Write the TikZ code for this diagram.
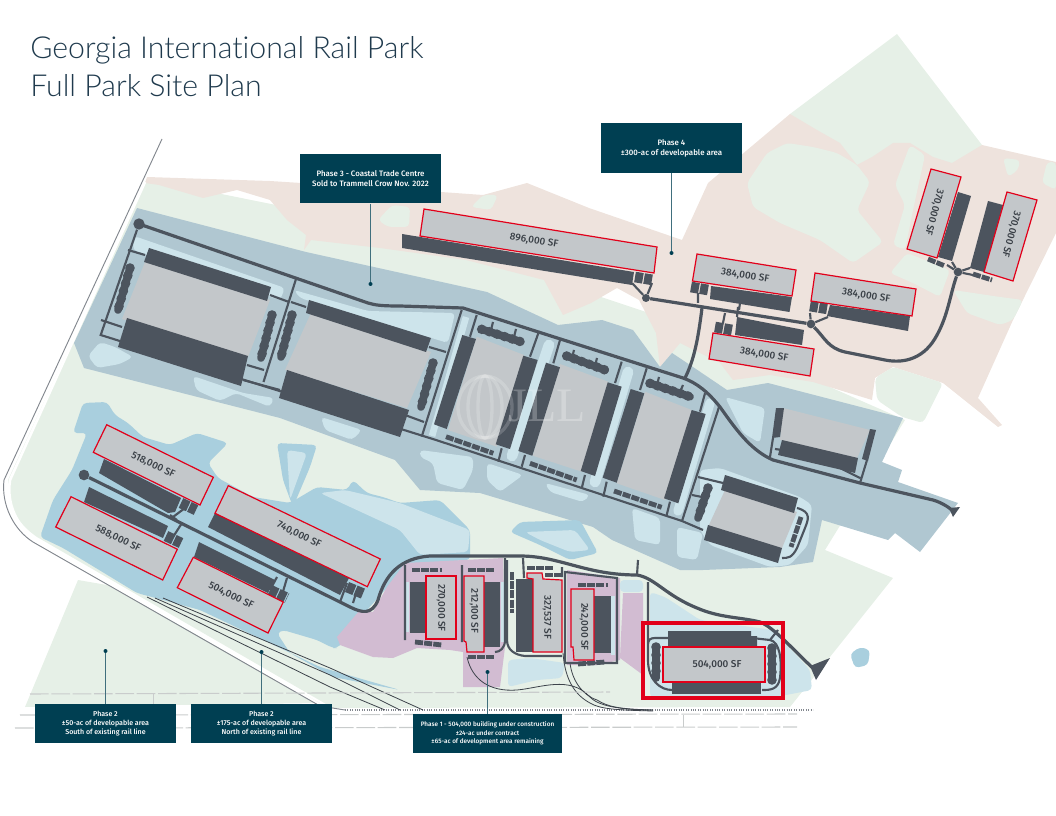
\documentclass[tikz,border=0pt]{standalone}
\usepackage{fontspec}
\setmainfont{Fira Sans Medium}
\newfontfamily\titlefont[Ligatures=NoCommon]{Lato Light}
\newfontfamily\markfont{Liberation Serif}
\definecolor{parkgreen}{HTML}{E6F0E7}
\definecolor{parkpink}{HTML}{EEE3DD}
\definecolor{phasegrey}{HTML}{B0C7D1}
\definecolor{palewater}{HTML}{CDE4EB}
\definecolor{lakeblue}{HTML}{A9CFDE}
\definecolor{phasepurple}{HTML}{D2BCD2}
\definecolor{roaddark}{HTML}{4C545E}
\definecolor{roofgrey}{HTML}{C3C7CA}
\definecolor{planred}{HTML}{E2001A}
\definecolor{boxteal}{HTML}{003F52}
\definecolor{titleink}{HTML}{1F3A4D}
\definecolor{railgrey}{HTML}{C9CCCC}
\usepackage{tikz}

\begin{document}
\begin{tikzpicture}[x=0.75pt, y=-0.75pt,
    road/.style={draw=roaddark, line width=2.4pt, line join=round},
    lane/.style={draw=roaddark, line width=1.6pt},
    spur/.style={draw=roaddark!80!black, line width=0.6pt},
    dark/.style={fill=roaddark},
    roof/.style={fill=roofgrey},
    sold/.style={fill=roofgrey, draw=planred, line width=0.9pt},
    blob/.style={draw=roaddark, line width=5.8pt, line cap=round},
    bumps/.style={draw=roaddark, line width=7.2pt, line cap=round, dash pattern=on 0pt off 6pt},
    smallblob/.style={draw=roaddark, line width=3.6pt, dash pattern=on 6pt off 0.9pt},
    carpark/.style={draw=roaddark, line width=8pt, dash pattern=on 6pt off 0.9pt},
    hub/.style={circle, fill=roaddark, inner sep=0pt, minimum size=#1},
    sqft/.style={text=roaddark!75!black, font=\fontsize{7.5}{9}\selectfont},
    phasebox/.style={fill=boxteal, text=white, align=center, inner sep=0pt},
    boxlarge/.style={phasebox, font=\fontsize{5.9}{7.6}\selectfont},
    boxmid/.style={phasebox, font=\fontsize{5.3}{7}\selectfont},
    boxsmall/.style={phasebox, font=\fontsize{4.8}{6.4}\selectfont},
    leader/.style={draw=boxteal!75!white, line width=0.6pt},
    leaderdot/.style={circle, fill=boxteal, inner sep=0pt, minimum size=3pt},
    water/.style={fill=palewater, rounded corners=3pt},
    lake/.style={fill=lakeblue, rounded corners=3pt},
    greenpatch/.style={fill=parkgreen, rounded corners=3pt}
  ]
  \useasboundingbox (0,0) rectangle (1056,816);

  % Ground
  \fill[parkgreen] (147,179) -- (400,230) -- (700,330) -- (905,420) -- (825,550) -- (893,578) -- (790,707) -- (333,708)
    -- (37,537) .. controls (20,525) and (8,510) .. (8,480) -- cycle;
  \fill[parkgreen] (790,114) -- (897,34) -- (982,145) -- (900,300) -- (800,200) -- cycle;

  % Phase 4 land
  \fill[parkpink] (147,177) -- (270,181) -- (441,192) -- (483,195) -- (527,183) -- (589,208) -- (682,240) -- (708,183)
    -- (790,114) -- (817,130) -- (840,143) -- (857,165) -- (872,157) -- (893,143) -- (910,143) -- (933,157) -- (952,163) -- (982,145)
    -- (1056,162) -- (1056,233) -- (1013,320) -- (978,398) -- (1002,425) -- (998,427) -- (943,383) -- (893,367) -- (875,378) -- (872,400)
    -- (813,382) -- (770,375) -- (733,380) -- (720,363) -- (680,343) -- (660,367) -- (656,333) -- (639,300) -- (617,288) -- (591,303)
    -- (563,315) -- (544,280) -- (466,260) -- (380,248) -- (311,240) -- (304,250) -- (306,235) -- (287,220) -- (270,200) -- (237,190)
    -- (203,198) -- (159,185) -- (145,183) -- cycle;
  \fill[greenpatch] (747,183) -- (767,153) -- (787,143) -- (813,147) -- (837,153) -- (857,165) -- (870,182) -- (857,210)
    -- (883,242) -- (853,263) -- (820,240) -- (780,223) -- (753,207) -- cycle;
  \fill[greenpatch] (910,145) -- (925,155) -- (913,210) -- (905,250) -- (893,245) -- (905,205) -- (895,185) -- cycle;
  \fill[greenpatch] (890,273) -- (907,253) -- (950,270) -- (940,297) -- (913,283) -- cycle;
  \fill[greenpatch] (953,290) -- (1000,297) -- (1023,300) -- (1013,320) -- (1000,325) -- (967,313) -- cycle;
  \fill[greenpatch] (1003,158) -- (1020,160) -- (1018,170) -- (1008,177) -- cycle;
  \fill[greenpatch] (1047,162) -- (1056,162) -- (1056,190) -- (1042,183) -- cycle;
  \fill[greenpatch] (875,378) -- (893,367) -- (943,383) -- (923,423) -- (902,417) -- (877,400) -- cycle;
  \fill[greenpatch] (378,220) -- (392,205) -- (410,207) -- (409,227) -- (388,227) -- cycle;
  \fill[greenpatch] (471,207) -- (483,195) -- (498,195) -- (491,210) -- cycle;

  % Phase 2 land south of the rail
  \fill[parkgreen] (78,580) -- (107,585) -- (320,703) -- (25,707) -- cycle;

  % Phase 3 land
  \fill[phasegrey] (137,208) -- (306,252) -- (487,292) -- (558,325) -- (602,320) -- (633,330) -- (660,367) -- (672,353) -- (690,365)
    -- (727,390) -- (768,383) -- (903,418) -- (882,462) -- (902,470) -- (898,482) -- (958,503) -- (920,552) -- (895,533) -- (888,540)
    -- (822,520) -- (813,562) -- (780,567) -- (703,570) -- (680,570) -- (612,540) -- (593,527) -- (480,493) -- (420,490) -- (395,460)
    -- (280,418) -- (84,368) -- (74,343) -- cycle;
  \fill[water] (134,236) -- (285,288) -- (280,300) -- (133,250) -- cycle;
  \fill[water] (100,342) -- (115,347) -- (133,357) -- (120,364) -- (97,368) -- (88,356) -- cycle;
  \fill[water] (193,376) -- (243,393) -- (274,398) -- (270,407) -- (236,393) -- (220,401) -- (196,390) -- cycle;
  \fill[water] (321,417) -- (362,430) -- (352,440) -- (325,430) -- cycle;
  \fill[water] (294,290) -- (368,311) -- (455,313) -- (448,343) -- (300,298) -- cycle;
  \fill[water] (420,450) -- (473,457) -- (473,470) -- (463,490) -- (437,483) -- (433,463) -- (420,457) -- cycle;
  \fill[water] (487,463) -- (523,475) -- (500,492) -- (487,480) -- cycle;
  \fill[water] (545,483) -- (590,495) -- (583,502) -- (550,492) -- cycle;
  \fill[water] (725,397) -- (765,408) -- (760,443) -- (743,433) -- cycle;
  \fill[water] (632,508) -- (660,518) -- (660,545) -- (635,540) -- cycle;
  \fill[water] (677,527) -- (703,533) -- (697,560) -- (677,557) -- cycle;
  \fill[water] (700,470) -- (720,468) -- (800,497) -- (812,505) -- (808,545) -- (790,565) -- (770,567) -- (710,545) -- (700,530) -- cycle;
  \draw[palewater, line width=5pt] (466,317) -- (432,436);
  \draw[palewater, line width=8pt, line cap=round] (549,345) -- (512,456);
  \draw[palewater, line width=8pt, line cap=round] (628,372) -- (595,482);
  \draw[palewater, line width=7pt, line cap=round] (710,403) -- (678,511);

  % Phase 2 water
  \fill[lake] (83,403) -- (107,402) -- (115,415) -- (128,423) -- (143,437) -- (170,445) -- (197,433) -- (228,443) -- (208,463) -- (218,478)
    -- (253,497) -- (290,503) -- (317,487) -- (347,490) -- (353,480) -- (367,493) -- (383,497) -- (400,503) -- (440,500) -- (470,530)
    -- (470,560) -- (420,563) -- (400,575) -- (385,590) -- (367,610) -- (353,633) -- (337,648) -- (333,648) -- (317,640) -- (283,630)
    -- (277,633) -- (290,653) -- (333,677) -- (400,690) -- (320,667) -- (200,610) -- (137,593) -- (63,548) -- (40,537) -- (53,500)
    -- (72,470) -- (87,433) -- (73,433) -- cycle;
  \fill[lake] (277,443) -- (317,445) -- (310,467) -- (293,507) -- (283,480) -- cycle;
  \fill[water] (287,450) -- (307,453) -- (290,500) -- cycle;
  \fill[water] (320,493) -- (345,490) -- (400,503) -- (470,530) -- (468,552) -- (420,555) -- (400,530) -- cycle;
  \fill[lake] (510,532) -- (520,522) -- (580,520) -- (598,553) -- (570,560) -- (540,545) -- cycle;
  \fill[water] (525,532) -- (575,530) -- (590,550) -- (570,552) -- (540,540) -- cycle;
  \fill[lake] (850,654) -- (860,647) -- (870,650) -- (868,665) -- (855,668) -- cycle;

  % Phase 1 land
  \fill[phasepurple] (405,563) -- (503,558) -- (505,647) -- (500,687) -- (463,687) -- (463,652) -- (450,650) -- (417,648) -- (393,658)
    -- (373,657) -- (340,645) -- (337,637) -- (360,610) -- (373,612) -- (387,587) -- cycle;
  \fill[phasepurple] (567,570) -- (620,578) -- (620,660) -- (597,665) -- (567,665) -- cycle;
  \fill[phasepurple] (623,593) -- (643,593) -- (643,675) -- (620,658) -- cycle;
  \fill[water] (508,660) -- (530,658) -- (565,663) -- (562,678) -- (537,680) -- (508,687) -- cycle;
  \fill[water] (620,580) -- (643,580) -- (643,592) -- (620,592) -- cycle;
  \fill[water] (650,592) -- (665,597) -- (700,620) -- (773,630) -- (810,670) -- (812,690) -- (760,700) -- (650,697) -- cycle;
  \fill[palewater] (406,582) rectangle (409,632);
  \fill[palewater] (501,582) rectangle (504,642);
  \fill[palewater] (611,596) rectangle (615,655);

  % Boundary and rail
  \draw[white, line width=2pt] (145,182) -- (10,480) .. controls (6,505) and (18,528) .. (37,540) -- (322,706) -- (340,712) -- (813,712);
  \draw[roaddark!70!white, line width=0.7pt] (162,139) -- (4,480) .. controls (1,505) and (14,530) .. (33,542) -- (320,706) -- (345,710);
  \draw[roaddark!70!white, line width=0.8pt, densely dotted] (345,710) -- (813,710);
  \draw[spur] (163,598) -- (330,668) -- (423,710);
  \draw[spur] (155,598) -- (330,675) -- (400,710);
  \draw[spur] (147,597) -- (330,687) -- (385,710);
  \draw[spur] (467,657) .. controls (472,680) and (490,692) .. (517,690) .. controls (540,688) and (570,675) .. (590,697) .. controls (600,708) and (630,710) .. (653,710);
  \draw[spur] (563,653) .. controls (565,680) and (575,695) .. (590,703) .. controls (600,709) and (615,710) .. (653,711);
  \draw[spur] (570,663) .. controls (572,680) and (582,695) .. (597,700) .. controls (607,706) and (615,709) .. (653,710);
  \draw[railgrey, line width=0.8pt, dash pattern=on 14pt off 2pt] (30,694) -- (610,692);
  \draw[railgrey, line width=0.8pt, dash pattern=on 14pt off 2pt] (20,715) -- (797,714);
  \draw[railgrey, line width=0.8pt, dash pattern=on 14pt off 2pt] (15,728) -- (797,727);
  \draw[railgrey, line width=0.6pt] (153,694) -- (153,705) -- (158,705);
  \draw[railgrey, line width=0.6pt] (683,715) -- (683,727);

  % Phase 3 roads
  \draw[road] (139,224) -- (368,303) .. controls (375,305) and (380,306) .. (400,306) -- (463,308) -- (683,378)
    .. controls (697,383) and (708,392) .. (720,407) .. controls (735,428) and (750,450) .. (773,460) -- (860,483) -- (933,500)
    .. controls (943,503) and (950,508) .. (955,513);
  \fill[roaddark] (953,517) -- (949,508) -- (960,507) -- cycle;
  \node[hub=8.5pt] (hubwest) at (139,224) {};
  \draw[lane] (hubwest) -- (100.7,335) -- (436,440) -- (682,521);
  \draw[lane] (682,521) -- (703,530) (719,407) -- (682,521);
  \draw[lane] (296,279) -- (263.5,382);
  \draw[lane] (270,295) -- (289,302) (247,365) -- (264,370) (243,380) -- (280,390) (101,320) -- (122,327) (128,250) -- (145,255)
    (291,302) -- (306,307) (429,347) -- (446,352) (405,415) -- (424,422) (461.7,310) -- (421.7,436.7) (476.7,315) -- (470,336.7)
    (538.3,333.3) -- (530,356.7) (560,340) -- (553.3,363.3) (621.7,361.7) -- (615,383) (646.7,368.3) -- (640,390) (705,393.3) -- (700,411.7)
    (501.7,448.3) -- (498.3,461.7) (525,455) -- (521.7,466.7) (585,475) -- (581.7,488.3) (606.7,481.7) -- (603.3,496.7) (670,501.7) -- (666.7,515)
    (493,322) -- (491,330) (516,329) -- (514,337) (574,350) -- (572,358) (597,358) -- (595,366) (659,377) -- (657,385) (683,385) -- (680,392)
    (698,477) -- (723,483) (692,495) -- (702,497) (773,438) -- (770,457) (775,449) -- (782,450) (867,460) -- (860,483) (838,467) -- (860,478);
  \draw[lane] (797,508) .. controls (812,512) and (808,520) .. (805,528) -- (797,548) .. controls (792,558) and (788,558) .. (782,558);

  % Phase 3 buildings
  \fill[roof] (145,262) -- (270,300) -- (248,357) -- (122,319) -- cycle;
  \fill[dark] (149,248) -- (271,287) -- (267,301) -- (144,262) -- cycle;
  \fill[dark] (127,318) -- (248,356) -- (241,386) -- (118,347) -- cycle;
  \fill[roof] (311,313) -- (431,352) -- (407,408) -- (285,370) -- cycle;
  \fill[dark] (309,300) -- (431,338) -- (426,352) -- (306,313) -- cycle;
  \fill[dark] (287,370) -- (409,410) -- (400,437) -- (279,398) -- cycle;
  \fill[roof] (476.7,336.7) -- (524,355) -- (496.7,446.7) -- (448,430) -- cycle;
  \fill[dark] (462.3,335) -- (476,339) -- (446.7,429) -- (434,424.3) -- cycle;
  \fill[dark] (523.3,355.7) -- (537.7,360) -- (510,449) -- (495.7,444.3) -- cycle;
  \fill[roof] (560,364) -- (608.3,381.7) -- (581.7,471.7) -- (532.7,455.7) -- cycle;
  \fill[dark] (546,362.7) -- (560,367.3) -- (532.3,455.7) -- (518.3,451) -- cycle;
  \fill[dark] (607.7,382.3) -- (621.7,386.7) -- (595,476) -- (580.7,471) -- cycle;
  \fill[roof] (645,391.7) -- (691.7,410) -- (665,500) -- (616.7,483.3) -- cycle;
  \fill[dark] (630.7,389) -- (644.3,393.3) -- (616.7,482.7) -- (602.7,477.7) -- cycle;
  \fill[dark] (691.7,410) -- (705.7,414) -- (678.3,503.3) -- (664,498.3) -- cycle;
  \fill[roof] (725,490) -- (797,512) -- (782,548) -- (708,527) -- cycle;
  \fill[dark] (725,475) -- (798,498) -- (794,513) -- (721,490) -- cycle;
  \fill[dark] (708,525) -- (782,548) -- (778,563) -- (704,540) -- cycle;
  \fill[roof] (783,408) -- (870,430) -- (857,458) -- (780,440) -- cycle;
  \fill[dark] (776,408) -- (784,408) -- (780,437) -- (772,438) -- cycle;
  \fill[dark] (870,429) -- (876,430) -- (868,461) -- (862,459) -- cycle;
  \fill[dark] (782,440) -- (858,458) -- (855,473) -- (778,455) -- cycle;

  % Phase 3 parking
  \foreach \ax/\ay/\bx/\by in {130/268/118/310, 272/315/261/358, 292/315/281/357, 433/363/421/407,
      481.7/329.3/520.7/341.7, 566.7/356/605/370, 650/383.3/690/396.7, 708/488/698/518} {
    \draw[blob] (\ax,\ay) -- (\bx,\by);
    \draw[bumps] (\ax,\ay) -- (\bx,\by);
  }
  \draw[smallblob] (446,436.7) -- (493.3,453.3);
  \draw[smallblob] (530,463.3) -- (576.7,480);
  \draw[smallblob] (614,491) -- (661.7,507.3);
  \draw[smallblob] (801,517) -- (791,547);

  % Phase 4 roads
  \node[hub=6pt] (hubfour) at (646,298) {};
  \node[hub=6.5pt] (hubeast) at (811,324) {};
  \node[hub=6.5pt] (hubnorth) at (958,272) {};
  \draw[road] (hubfour) -- (hubeast);
  \draw[road] (hubeast) .. controls (825,338) and (828,348) .. (845,352) -- (885,360) .. controls (905,364) and (925,358) .. (937,335)
    .. controls (948,315) and (950,295) .. (hubnorth);
  \draw[road] (702,308) .. controls (698,340) and (694,360) .. (685,378);
  \draw[lane] (632,283) -- (hubfour) (652,283) -- (hubfour) (698,293) -- (698,303) (740,303) -- (739,310) (725,313) -- (723,323)
    (738,307) -- (737,317) (810,313) -- (hubeast) (828,317) -- (hubeast) (952,262) -- (hubnorth) (970,268) -- (hubnorth)
    (947,265) -- (hubnorth) (973,275) -- (hubnorth);

  % Phase 4 buildings
  \fill[dark] (402,234) -- (634,272) -- (632,285) -- (402,248) -- cycle;
  \fill[dark] (711,286) -- (792,297) -- (789.5,312) -- (710,299) -- cycle;
  \fill[dark] (830,305) -- (910,316) -- (908,331) -- (827,316) -- cycle;
  \fill[dark] (737,317) -- (804,330) -- (802,345) -- (735,335) -- cycle;
  \fill[dark] (958,192) -- (971,196) -- (952,261) -- (938,257) -- cycle;
  \fill[dark] (988,201) -- (1003,205) -- (984,272) -- (970,268) -- cycle;
  \foreach \ax/\ay/\bx/\by in {635/277/653/280, 691/287/708/290, 810/306/828/309, 715/327/732/330} {
    \draw[carpark] (\ax,\ay) -- (\bx,\by);
  }
  \draw[smallblob] (928,259) -- (945,266);
  \draw[smallblob] (973,274) -- (992,280);
  \draw[sold] (424,209) -- (657,247) -- (654,273) -- (420,236) -- cycle;
  \draw[sold] (697,254) -- (796,270) -- (792,296) -- (692.5,281) -- cycle;
  \draw[sold] (815,273) -- (916,289) -- (912,316) -- (811,301) -- cycle;
  \draw[sold] (713,333) -- (814,349) -- (810,376) -- (709,359) -- cycle;
  \draw[sold] (931,169) -- (961,177) -- (937,258) -- (907,249) -- cycle;
  \draw[sold] (1007,192) -- (1037,200) -- (1013,281) -- (984,272) -- cycle;
  \node[sqft, rotate=-9.5] (sfeightnine) at (534,241) {896,000 SF};
  \node[sqft, rotate=-9] (sffoura) at (745,276) {384,000 SF};
  \node[sqft, rotate=-9] (sffourb) at (866,296) {384,000 SF};
  \node[sqft, rotate=-9] (sffourc) at (764,355) {384,000 SF};
  \node[sqft, rotate=-105] (sfthreea) at (934,212) {370,000 SF};
  \node[sqft, rotate=-105] (sfthreeb) at (1011,234) {370,000 SF};

  % Phase 2 roads and buildings
  \node[hub=8pt] (hubtwo) at (84,475) {};
  \draw[road] (hubtwo) -- (350,607) .. controls (362,613) and (372,615) .. (378,600) .. controls (385,575) and (400,558) .. (430,556)
    -- (520,556) .. controls (560,556) and (585,575) .. (637,575) .. controls (655,578) and (665,595) .. (697,608)
    .. controls (720,618) and (740,617) .. (760,622) .. controls (775,628) and (795,652) .. (815,670);
  \fill[roaddark] (830,658) -- (816,680) -- (810,666) -- cycle;
  \draw[lane] (170,515) -- (177,520) (185,508) -- (173,517) (182,523) -- (173,537) (277,577) -- (270,590) (287,578) -- (282,595)
    (347,583) -- (340,602) (357,590) -- (353,603) (637,575) -- (638,560);
  \fill[dark] (104,459) -- (181,498) -- (175,512) -- (168,513) -- (99,473) -- cycle;
  \fill[dark] (89,487) -- (168,526) -- (163,538) -- (84,502) -- cycle;
  \fill[dark] (215,513) -- (349,578) -- (340,595) -- (208,527) -- cycle;
  \fill[dark] (199,542) -- (275,580) -- (268,593) -- (194,557) -- cycle;
  \foreach \ax/\ay/\bx/\by in {181/503/196/510, 166/536/181/543, 270/590/287/598, 347/587/364/594} {
    \draw[carpark] (\ax,\ay) -- (\bx,\by);
  }
  \draw[sold] (106.7,424.7) -- (213.3,477.3) -- (200,505) -- (93.3,452.3) -- cycle;
  \draw[sold] (71,496.7) -- (177.3,549.3) -- (162.7,580) -- (55.7,527) -- cycle;
  \draw[sold] (228.3,485.7) -- (380.3,559) -- (367.3,586.7) -- (215,513.3) -- cycle;
  \draw[sold] (193.3,557.3) -- (283.3,602) -- (268,633) -- (177.3,587.7) -- cycle;
  \node[sqft, rotate=-26] (sffiveeighteen) at (153,465) {518,000 SF};
  \node[sqft, rotate=-26] (sffiveeightyeight) at (118,539) {588,000 SF};
  \node[sqft, rotate=-26] (sfseven) at (299,535) {740,000 SF};
  \node[sqft, rotate=-26] (sffivefour) at (231,596) {504,000 SF};

  % Phase 1 roads and buildings
  \draw[lane] (405,565) -- (405,640) (462,565) -- (462,642) (505,558) -- (505,640) .. controls (505,648) and (500,652) .. (495,652);
  \draw[lane] (507,560) -- (507,640) .. controls (507,650) and (515,655) .. (525,656) -- (562,656) (523,558) -- (524,578) (562,567) -- (562,577);
  \draw[lane] (565,572) -- (565,663) -- (617,663) -- (617,578) -- cycle;
  \draw[lane] (648,582) -- (648,660) .. controls (648,680) and (660,690) .. (672,690) (672,638) -- (655,638) .. controls (650,638) and (648,640) .. (648,645);
  \draw[lane] (752,638) -- (770,640) .. controls (780,642) and (782,660) .. (780,678) .. controls (778,690) and (770,690) .. (762,690) (770,640) -- (778,630);
  \fill[dark] (410,582) rectangle (426,633);
  \fill[dark] (484,582) rectangle (500,647);
  \fill[dark] (516,579) rectangle (533,652);
  \fill[dark] (594,596) rectangle (611,653);
  \fill[dark] (668,631) -- (751,631) -- (751,636) -- (757,636) -- (757,647) -- (668,647) -- cycle;
  \fill[dark] (672,682) rectangle (761,694);
  \foreach \ax/\ay/\bx/\by in {412/570/442/570, 415/642/442/645, 468/570/495/570, 468/657/495/657, 527/568/553/568,
      545/575/561/575, 578/585/608/585, 578/664/605/662, 512/572/512/613} {
    \draw[smallblob] (\ax,\ay) -- (\bx,\by);
  }
  \foreach \ax/\ay/\bx/\by in {656/647/656/678, 772/648/772/680} {
    \draw[blob] (\ax,\ay) -- (\bx,\by);
    \draw[bumps] (\ax,\ay) -- (\bx,\by);
  }
  \draw[sold] (426,576) rectangle (456,639);
  \draw[sold] (464,576) -- (484,576) -- (484,652) -- (467,652) -- (466,642) -- (464,641) -- cycle;
  \draw[sold] (527,573) -- (542,573) -- (543,579) -- (562,580) -- (562,652) -- (533,652) -- (533,579) -- (527,578) -- cycle;
  \draw[sold] (571,589) -- (594,589) -- (594,660) -- (574,660) -- (573,647) -- (571,647) -- cycle;
  \draw[sold] (663,647) rectangle (765,682);
  \node[sqft, rotate=-90] (sftwoseventy) at (441,608) {270,000 SF};
  \node[sqft, rotate=-90] (sftwotwelve) at (474,611) {212,100 SF};
  \node[sqft, rotate=-90] (sfthreetwo) at (547,617) {327,537 SF};
  \node[sqft, rotate=-90] (sftwofour) at (584,627) {242,000 SF};
  \node[sqft] (sffivezero) at (717,665) {504,000 SF};
  \draw[planred, line width=3pt] (643,623) rectangle (783,698);

  % Watermark
  \begin{scope}[white, opacity=0.18, line width=2.5pt]
    \draw (485,407) ellipse (27 and 31);
    \draw (485,407) ellipse (17 and 31);
    \draw (485,407) ellipse (7 and 31);
  \end{scope}
  \node[text=white, opacity=0.25, font=\markfont\fontsize{36}{36}\selectfont] (jllmark) at (547,406) {JLL};

  % Title
  \node[anchor=base west, inner sep=0pt, text=titleink, font=\titlefont\fontsize{22.7}{28}\selectfont] (titleone) at (30,59) {Georgia International Rail Park};
  \node[anchor=base west, inner sep=0pt, text=titleink, font=\titlefont\fontsize{22.7}{28}\selectfont] (titletwo) at (30,97) {Full Park Site Plan};

  % Phase callouts
  \node[boxlarge, minimum width=105.75pt, minimum height=36.75pt] (boxthree) at (370.5,179) {Phase 3 - Coastal Trade Centre\\Sold to Trammell Crow Nov. 2022};
  \node[boxlarge, minimum width=105.75pt, minimum height=37.5pt] (boxfour) at (671.5,148) {Phase 4\\±300-ac of developable area};
  \node[boxmid, minimum width=105.75pt, minimum height=29pt] (boxtwosouth) at (105.5,723.5) {Phase 2\\±50-ac of developable area\\South of existing rail line};
  \node[boxmid, minimum width=105.75pt, minimum height=29pt] (boxtwonorth) at (261.5,723.5) {Phase 2\\±175-ac of developable area\\North of existing rail line};
  \node[boxsmall, minimum width=111.75pt, minimum height=29pt] (boxone) at (487.5,733.5) {Phase 1 - 504,000 building under construction\\±24-ac under contract\\±65-ac of development area remaining};
  \node[leaderdot] (dotthree) at (370.5,284) {};
  \node[leaderdot] (dotfour) at (671.5,253) {};
  \node[leaderdot] (dottwosouth) at (105.5,651) {};
  \node[leaderdot] (dottwonorth) at (261.5,652) {};
  \node[leaderdot] (dotone) at (487.5,672) {};
  \draw[leader] (boxthree) -- (dotthree);
  \draw[leader] (boxfour) -- (dotfour);
  \draw[leader] (boxtwosouth) -- (dottwosouth);
  \draw[leader] (boxtwonorth) -- (dottwonorth);
  \draw[leader] (boxone) -- (dotone);
\end{tikzpicture}
\end{document}
